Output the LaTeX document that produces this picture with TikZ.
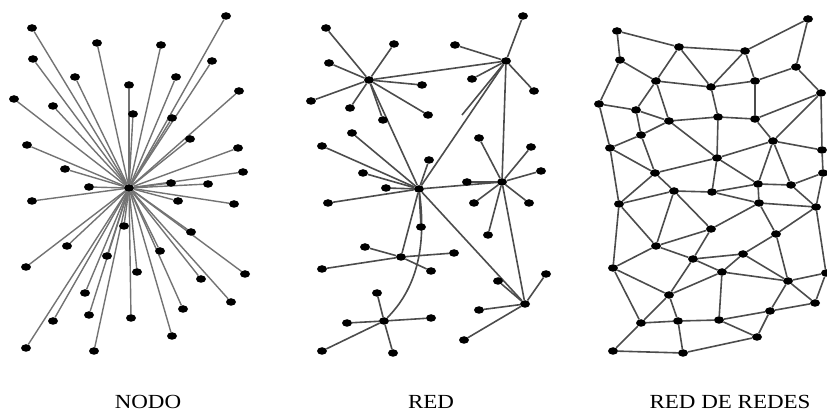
\documentclass[tikz,border=0pt]{standalone}
\usepackage{fontspec}
\setmainfont{Liberation Serif}
\usetikzlibrary{shapes.geometric,backgrounds}

\begin{document}
\begin{tikzpicture}[x=1pt,y=-1pt,
    dot/.style={ellipse,fill=black,inner sep=0pt,minimum width=10pt,minimum height=7.5pt},
    link/.style={draw=black!70,line width=1.6pt},
    caption/.style={anchor=base,font=\fontsize{20}{22}\selectfont}]
  \useasboundingbox (0,0) rectangle (827,411);

  % NODO
  \node[dot] (nodo) at (129,188) {};
  \foreach \x/\y [count=\i] in {32/28,97/43,161/45,226/16,33/59,75/77,129/85,176/77,212/61,14/99,
      53/106,133/114,172/118,239/91,27/145,190/139,65/169,89/187,238/148,243/172,171/183,208/184,
      32/201,178/201,234/204,124/226,191/232,67/246,107/256,160/251,26/267,137/272,245/274,201/279,
      85/293,231/302,183/309,53/321,89/315,131/318,172/336,26/348,94/351}
    \node[dot] (s\i) at (\x,\y) {};

  % RED
  \node[dot] (ha) at (369,80) {};
  \node[dot] (hb) at (506,61) {};
  \node[dot] (hc) at (419,189) {};
  \node[dot] (hd) at (502,182) {};
  \node[dot] (he) at (401,257) {};
  \node[dot] (hf) at (384,321) {};
  \node[dot] (hg) at (525,304) {};
  \coordinate (stub) at (462,115);
  \foreach \x/\y [count=\i] in {326/28,394/44,329/63,422/85,311/101,350/108,428/115,383/120}
    \node[dot] (a\i) at (\x,\y) {};
  \foreach \x/\y [count=\i] in {523/16,455/45,472/79,534/91}
    \node[dot] (b\i) at (\x,\y) {};
  \foreach \x/\y [count=\i] in {352/133,322/146,429/160,363/173,386/188,328/203,421/227}
    \node[dot] (c\i) at (\x,\y) {};
  \foreach \x/\y [count=\i] in {479/138,531/147,541/171,467/182,474/203,529/203,488/235}
    \node[dot] (d\i) at (\x,\y) {};
  \foreach \x/\y [count=\i] in {365/247,322/269,454/253,431/271}
    \node[dot] (e\i) at (\x,\y) {};
  \foreach \x/\y [count=\i] in {377/293,347/323,431/318,322/351,393/353}
    \node[dot] (f\i) at (\x,\y) {};
  \foreach \x/\y [count=\i] in {498/281,546/274,479/310,464/340}
    \node[dot] (g\i) at (\x,\y) {};

  % RED DE REDES
  \foreach \x/\y [count=\i] in {617/31,679/47,745/51,808/19,620/60,656/81,711/87,755/81,796/67,821/93,
      599/104,636/110,669/121,718/117,755/119,641/135,773/141,610/148,717/158,822/150,
      655/173,823/173,758/184,791/185,674/191,712/192,619/204,759/203,816/207,711/229,
      776/234,656/246,693/259,743/254,613/268,722/272,788/281,826/273,669/295,815/303,
      770/311,641/323,678/321,719/320,757/337,613/351,683/353}
    \node[dot] (m\i) at (\x,\y) {};

  \begin{scope}[on background layer]
    \foreach \i in {1,...,43}
      \draw[link,draw=black!55,line width=1.4pt] (nodo) -- (s\i);
    \foreach \i in {1,...,8} \draw[link] (ha) -- (a\i);
    \foreach \i in {1,...,4} \draw[link] (hb) -- (b\i);
    \foreach \i in {1,...,7} \draw[link] (hc) -- (c\i);
    \foreach \i in {1,...,7} \draw[link] (hd) -- (d\i);
    \foreach \i in {1,...,4} \draw[link] (he) -- (e\i);
    \foreach \i in {1,...,5} \draw[link] (hf) -- (f\i);
    \foreach \i in {1,...,4} \draw[link] (hg) -- (g\i);
    \draw[link] (ha) -- (hb);
    \draw[link] (ha) -- (hc);
    \draw[link] (hb) -- (hc);
    \draw[link] (hb) -- (hd);
    \draw[link] (hb) -- (stub);
    \draw[link] (hc) -- (hd);
    \draw[link] (hc) -- (he);
    \draw[link] (hc) -- (hg);
    \draw[link] (hd) -- (hg);
    \draw[link] (hc) .. controls (427,250) and (415,290) .. (hf);
    \foreach \a/\b in {1/2,1/5,2/3,2/6,2/7,3/4,3/7,3/8,4/9,8/9,9/10,5/6,5/11,6/7,6/12,6/13,7/8,7/14,
        8/15,10/15,10/17,10/20,11/12,11/18,12/13,12/16,13/16,13/14,13/19,14/19,14/15,15/17,16/18,
        16/21,18/21,18/27,19/21,17/19,17/20,17/23,17/24,19/23,19/26,21/27,21/25,25/27,25/26,25/32,
        25/30,23/26,26/28,23/24,23/28,22/24,24/29,20/22,22/29,28/29,28/30,28/31,29/31,27/32,27/35,
        30/32,30/33,29/38,32/33,32/35,33/34,31/34,31/37,34/36,34/37,36/37,33/36,37/38,38/40,37/40,
        37/41,40/41,33/39,36/39,35/39,35/42,39/42,39/43,36/44,42/43,43/44,41/44,44/45,41/45,42/46,
        46/47,43/47,45/47}
      \draw[link] (m\a) -- (m\b);
  \end{scope}

  \node[caption] (tnodo) at (148,408) {\scalebox{1.15}[1]{NODO}};
  \node[caption] (tred) at (431,408) {\scalebox{1.15}[1]{RED}};
  \node[caption] (tredes) at (730,408) {\scalebox{1.15}[1]{RED DE REDES}};
\end{tikzpicture}
\end{document}
